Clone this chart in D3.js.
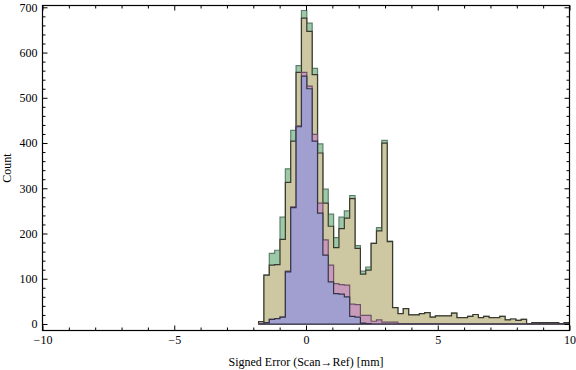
<!DOCTYPE html>
<html lang="en">
<head>
<meta charset="utf-8" />
<title>Signed Error histogram</title>
<script src="https://d3js.org/d3.v7.min.js"></script>
<style>
  html, body { margin: 0; padding: 0; background: #fff; }
  svg text { font-family: "Liberation Serif", "Times New Roman", serif; fill: #000; }
  .tick line { stroke: #000; stroke-width: 1; }
  .domain { display: none; }
</style>
</head>
<body>
<svg id="chart" width="576" height="370"></svg>
<script>
// histogram bins (lower edge of first bin, bin width in mm)
const binStart = -1.8;
const binWidth = 0.2034;

// counts per bin
const greenCounts = [5, 108, 156, 163, 236, 343, 428, 571, 693, 665, 565, 398, 298, 243, 191, 236, 250, 284, 173, 117,
  126, 178, 213, 406, 183, 36, 23, 34, 20, 20, 23, 25, 15, 18, 18, 18, 24, 14, 14, 17,
  21, 14, 17, 14, 14, 17, 9, 11, 8, 10, 1, 3, 3, 3, 3, 3, 1, 3];
const khakiCounts = [5, 108, 130, 131, 187, 313, 404, 556, 676, 647, 551, 378, 267, 216, 169, 211, 234, 277, 167, 110,
  119, 178, 206, 400, 182, 36, 23, 34, 20, 20, 23, 25, 15, 18, 18, 18, 24, 14, 14, 17,
  21, 14, 17, 14, 14, 17, 9, 11, 8, 10, 1, 3, 3, 3, 3, 3, 1, 3];
const pinkCounts = [1, 3, 10, 12, 15, 117, 259, 438, 556, 526, 419, 267, 186, 130, 89, 87, 86, 44, 43, 19,
  19, 6, 9, 4, 4, 4, 1, 1, 1, 1, 1, 1, 1, 1, 0, 0, 0, 0, 0, 0,
  0, 0, 0, 0, 0, 0, 0, 0, 0, 0, 0, 0, 0, 0, 0, 0, 0, 0];
const blueCounts = [0, 3, 10, 12, 15, 115, 257, 436, 548, 520, 404, 245, 152, 93, 67, 66, 60, 17, 15, 2,
  1, 0, 0, 0, 0, 0, 0, 0, 0, 0, 0, 0, 0, 0, 0, 0, 0, 0, 0, 0,
  0, 0, 0, 0, 0, 0, 0, 0, 0, 0, 0, 0, 0, 0, 0, 0, 0, 0];

const xMajorTicks = [-10, -5, 0, 5, 10];
const yMajorTicks = [0, 100, 200, 300, 400, 500, 600, 700];

const series = [
  { counts: greenCounts, fill: "#9ccaa8", stroke: "#5f7f6a" },
  { counts: khakiCounts, fill: "#cdc8a1", stroke: "#3a392f" },
  { counts: pinkCounts,  fill: "#c99bbb", stroke: "#6d5268" },
  { counts: blueCounts,  fill: "#a09fcf", stroke: "#34344a" }
];

const svg = d3.select("#chart");
const frameL = 42.5, frameR = 569.5, frameT = 5.5, frameB = 330.5;

const x = d3.scaleLinear().domain([-10, 10]).range([frameL, frameR]);
const y = d3.scaleLinear().domain([-14.4, 704]).range([frameB, frameT]);

svg.append("clipPath").attr("id", "plot-clip")
  .append("rect")
  .attr("x", frameL).attr("y", frameT)
  .attr("width", frameR - frameL).attr("height", frameB - frameT);

// step areas, one per data set, biggest first
const area = d3.area()
  .curve(d3.curveStepAfter)
  .x(d => x(d[0]))
  .y0(y(0))
  .y1(d => y(d[1]));

const plot = svg.append("g").attr("clip-path", "url(#plot-clip)");

series.forEach(s => {
  const pts = s.counts.map((c, i) => [binStart + i * binWidth, c]);
  pts.push([binStart + s.counts.length * binWidth, s.counts[s.counts.length - 1]]);
  plot.append("path")
    .datum(pts)
    .attr("d", area)
    .attr("fill", s.fill)
    .attr("stroke", s.stroke)
    .attr("stroke-width", 1.2)
    .attr("stroke-linejoin", "miter");
});

// frame ticks (inward, mirrored on top/right)
const xMinor = d3.range(-10, 11, 1).filter(v => !xMajorTicks.includes(v));
const yMinor = d3.range(20, 704, 20).filter(v => !yMajorTicks.includes(v));

function addAxis(axis, tx, ty) {
  return svg.append("g").attr("transform", `translate(${tx},${ty})`).call(axis);
}

addAxis(d3.axisBottom(x).tickValues(xMajorTicks).tickSize(-5).tickSizeOuter(0).tickPadding(5), 0, frameB)
  .selectAll("text").style("font-size", "12px");
addAxis(d3.axisBottom(x).tickValues(xMinor).tickSize(-3).tickSizeOuter(0).tickFormat(""), 0, frameB);
addAxis(d3.axisTop(x).tickValues(xMajorTicks).tickSize(-5).tickSizeOuter(0).tickFormat(""), 0, frameT);
addAxis(d3.axisTop(x).tickValues(xMinor).tickSize(-3).tickSizeOuter(0).tickFormat(""), 0, frameT);

addAxis(d3.axisLeft(y).tickValues(yMajorTicks).tickSize(-5).tickSizeOuter(0).tickPadding(5), frameL, 0)
  .selectAll("text").style("font-size", "12px");
addAxis(d3.axisLeft(y).tickValues(yMinor).tickSize(-3).tickSizeOuter(0).tickFormat(""), frameL, 0);
addAxis(d3.axisRight(y).tickValues(yMajorTicks).tickSize(-5).tickSizeOuter(0).tickFormat(""), frameR, 0);
addAxis(d3.axisRight(y).tickValues(yMinor).tickSize(-3).tickSizeOuter(0).tickFormat(""), frameR, 0);

svg.append("rect")
  .attr("x", frameL).attr("y", frameT)
  .attr("width", frameR - frameL).attr("height", frameB - frameT)
  .attr("fill", "none")
  .attr("stroke", "#000")
  .attr("stroke-width", 1.2);

// axis titles
svg.append("text")
  .attr("x", (frameL + frameR) / 2)
  .attr("y", 366)
  .attr("text-anchor", "middle")
  .style("font-size", "12px")
  .text("Signed Error (Scan\u2192Ref) [mm]");

svg.append("text")
  .attr("transform", `translate(11,${(frameT + frameB) / 2}) rotate(-90)`)
  .attr("text-anchor", "middle")
  .style("font-size", "12px")
  .text("Count");
</script>
</body>
</html>
